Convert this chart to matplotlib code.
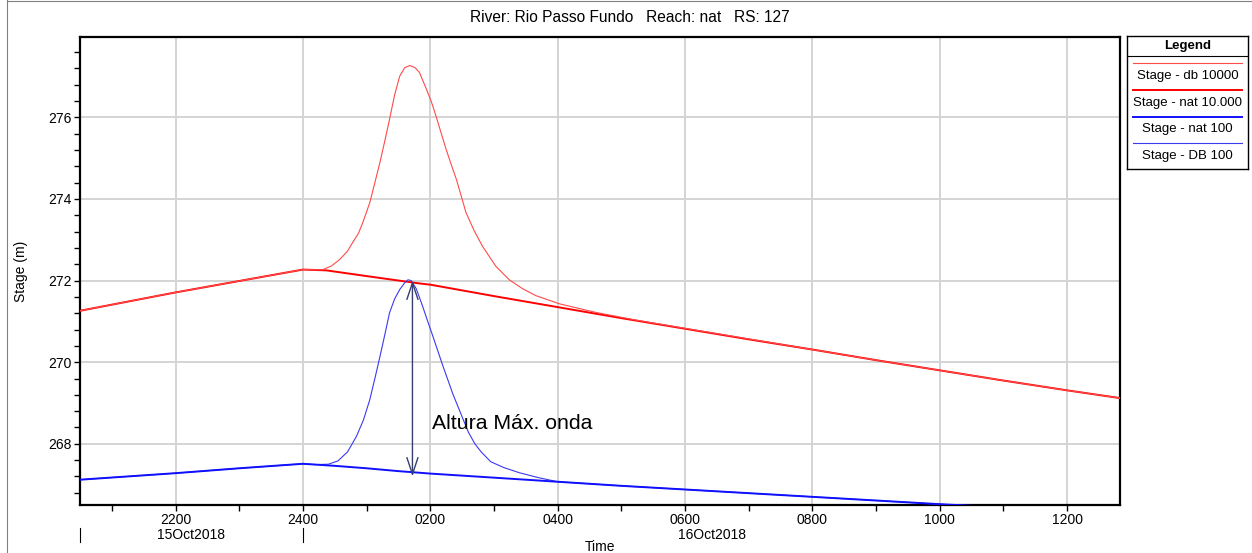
import numpy as np
import matplotlib
matplotlib.use("Agg")
import matplotlib.pyplot as plt
from matplotlib.ticker import MultipleLocator, FuncFormatter
from matplotlib.lines import Line2D
import matplotlib.transforms as mtransforms

plt.rcParams['font.family'] = ['Liberation Sans', 'DejaVu Sans']

# time in hours relative to 16Oct2018 0000
t_nat10000 = [-3.5, -2, -1, 0, 0.37, 1.0, 1.83, 2.0, 3.0, 4.0, 5.0, 6.0, 7.0, 8.0, 9.0, 10.0, 11.0, 12.0, 12.83]
stage_nat10000 = [271.26, 271.71, 271.99, 272.27, 272.25, 272.11, 271.93, 271.90, 271.62, 271.35, 271.08, 270.82,
                  270.56, 270.31, 270.05, 269.80, 269.55, 269.31, 269.12]

t_db10000 = [-3.5, -2, -1, 0, 0.3, 0.45, 0.58, 0.7, 0.78, 0.87, 0.94, 1.05, 1.13, 1.21, 1.29, 1.36, 1.44, 1.52,
             1.60, 1.68, 1.76, 1.83, 1.94, 2.02, 2.09, 2.17, 2.25, 2.33, 2.41, 2.49, 2.56, 2.69, 2.82, 3.03,
             3.24, 3.45, 3.66, 4.03, 4.6, 5.2, 6.0, 7.0, 8.0, 9.0, 10.0, 11.0, 12.0, 12.83]
stage_db10000 = [271.26, 271.71, 271.99, 272.27, 272.26, 272.36, 272.52, 272.72, 272.93, 273.15, 273.42, 273.91,
                 274.40, 274.90, 275.45, 275.95, 276.55, 277.01, 277.22, 277.27, 277.22, 277.10, 276.69, 276.37,
                 276.03, 275.62, 275.21, 274.84, 274.48, 274.05, 273.67, 273.22, 272.84, 272.35, 272.02, 271.80,
                 271.63, 271.43, 271.22, 271.04, 270.83, 270.57, 270.31, 270.05, 269.80, 269.55, 269.31, 269.12]

t_nat100 = [-3.5, -2, -1, 0, 0.5, 1.0, 1.5, 2.0, 3.0, 4.0, 5.0, 6.0, 7.0, 8.0, 9.0, 10.0, 11.0, 12.0, 12.83]
stage_nat100 = [267.12, 267.28, 267.40, 267.51, 267.46, 267.40, 267.33, 267.27, 267.17, 267.07, 266.97, 266.88,
                266.79, 266.70, 266.61, 266.52, 266.44, 266.36, 266.29]

t_db100 = [-3.5, -2, -1, 0, 0.2, 0.4, 0.55, 0.7, 0.84, 0.95, 1.05, 1.13, 1.21, 1.29, 1.36, 1.44, 1.52, 1.60,
           1.65, 1.70, 1.78, 1.88, 1.96, 2.04, 2.12, 2.20, 2.28, 2.35, 2.5, 2.6, 2.7, 2.8, 2.95, 3.15, 3.4, 3.7,
           4.0, 5.0, 6.0, 7.0, 8.0, 9.0, 10.0, 11.0, 12.0, 12.83]
stage_db100 = [267.12, 267.28, 267.40, 267.51, 267.49, 267.50, 267.58, 267.80, 268.18, 268.58, 269.08, 269.60,
               270.14, 270.70, 271.21, 271.55, 271.78, 271.95, 272.02, 272.00, 271.80, 271.37, 271.00, 270.64,
               270.27, 269.90, 269.55, 269.24, 268.66, 268.28, 268.00, 267.80, 267.56, 267.42, 267.29, 267.17,
               267.07, 266.97, 266.88, 266.79, 266.70, 266.61, 266.52, 266.44, 266.36, 266.29]

labels = ["Stage - db 10000", "Stage - nat 10.000", "Stage - nat 100", "Stage - DB 100"]
colors = ["#ff4a4a", "#ff0000", "#1010ff", "#3a3af0"]
widths = [0.8, 1.4, 1.4, 0.8]

day_marks = [-3.5, 0]
day_labels = ["15Oct2018", "16Oct2018"]
day_centers = [-1.75, 6.42]

# annotation: dam break wave height
arrow_t = 1.72
arrow_top, arrow_bottom = 272.0, 267.2

W, H = 1252, 553
fig = plt.figure(figsize=(W / 100, H / 100), dpi=100)
ax = fig.add_axes([80 / W, (H - 505) / H, 1040 / W, 468 / H])

series = [(t_db10000, stage_db10000), (t_nat10000, stage_nat10000),
          (t_nat100, stage_nat100), (t_db100, stage_db100)]
draw_order = [1, 3, 0, 2]
for i in draw_order:
    t, s = series[i]
    ax.plot(t, s, color=colors[i], lw=widths[i], zorder=3)

ax.set_xlim(-3.5, 12.83)
ax.set_ylim(266.5, 277.97)

ax.xaxis.set_major_locator(MultipleLocator(2))
ax.xaxis.set_minor_locator(MultipleLocator(1))
ax.yaxis.set_major_locator(MultipleLocator(2))
ax.yaxis.set_minor_locator(MultipleLocator(0.4))


def hhmm(h, pos):
    hr = int(round(h)) % 24
    if hr == 0:
        hr = 24
    return f"{hr:02d}00"


ax.xaxis.set_major_formatter(FuncFormatter(hhmm))
ax.yaxis.set_major_formatter(FuncFormatter(lambda v, p: f"{v:.0f}"))
ax.tick_params(which='both', direction='out', length=4, width=1, labelsize=10, color='black', pad=2)
ax.tick_params(axis='x', which='both', pad=2)
ax.grid(True, which='major', color='#d4d4d4', lw=1.4, zorder=0)
for sp in ax.spines.values():
    sp.set_linewidth(1.6)
    sp.set_color('black')

ax.set_xlabel("Time", fontsize=10, va='center')
ax.xaxis.set_label_coords(0.5, (505 - 547) / 468)
ax.set_ylabel("Stage (m)", fontsize=10, va='center')
ax.yaxis.set_label_coords((21 - 80) / 1040, 0.5)

# day boundaries and date labels under the time axis
trans = mtransforms.blended_transform_factory(ax.transData, ax.transAxes)
for d in day_marks:
    ax.plot([d, d], [(505 - 528) / 468, (505 - 542) / 468], color='black', lw=0.8,
            transform=trans, clip_on=False)
for c, lab in zip(day_centers, day_labels):
    ax.text(c, (505 - 535) / 468, lab, transform=trans, ha='center', va='center', fontsize=10)

ax.annotate('', xy=(arrow_t, arrow_top), xytext=(arrow_t, arrow_bottom),
            arrowprops=dict(arrowstyle='<->,head_length=1.2,head_width=0.4', color='#36406e',
                            lw=1.0, shrinkA=0, shrinkB=0), zorder=4)
ax.text(2.02, 268.5, "Altura Máx. onda", fontsize=15.3, ha='left', va='center')

fig.text(630 / W, 1 - 17 / H, "River: Rio Passo Fundo   Reach: nat   RS: 127",
         ha='center', va='center', fontsize=11.2)

# legend panel
lg = fig.add_axes([1127 / W, (H - 169) / H, 121 / W, 133 / H])
lg.set_xlim(0, 121)
lg.set_ylim(133, 0)
lg.set_xticks([])
lg.set_yticks([])
for sp in lg.spines.values():
    sp.set_linewidth(1.0)
lg.text(60.5, 10, "Legend", ha='center', va='center', fontsize=9.5, fontweight='bold')
lg.add_line(Line2D([0, 121], [20, 20], color='black', lw=0.8))
line_y = [27, 54, 81, 107]
text_y = [40, 67, 93, 120]
for i, lab in enumerate(labels):
    lg.add_line(Line2D([6, 115], [line_y[i], line_y[i]], color=colors[i], lw=widths[i]))
    lg.text(60.5, text_y[i], lab, ha='center', va='center', fontsize=9.5)

# outer frame lines (left and top)
fig.add_artist(Line2D([6.5 / W, 6.5 / W], [0, 1], transform=fig.transFigure, color='#808080', lw=0.8))
fig.add_artist(Line2D([6.5 / W, 1], [1 - 1 / H, 1 - 1 / H], transform=fig.transFigure, color='#808080', lw=0.8))

fig.savefig("out.png", dpi=100)
